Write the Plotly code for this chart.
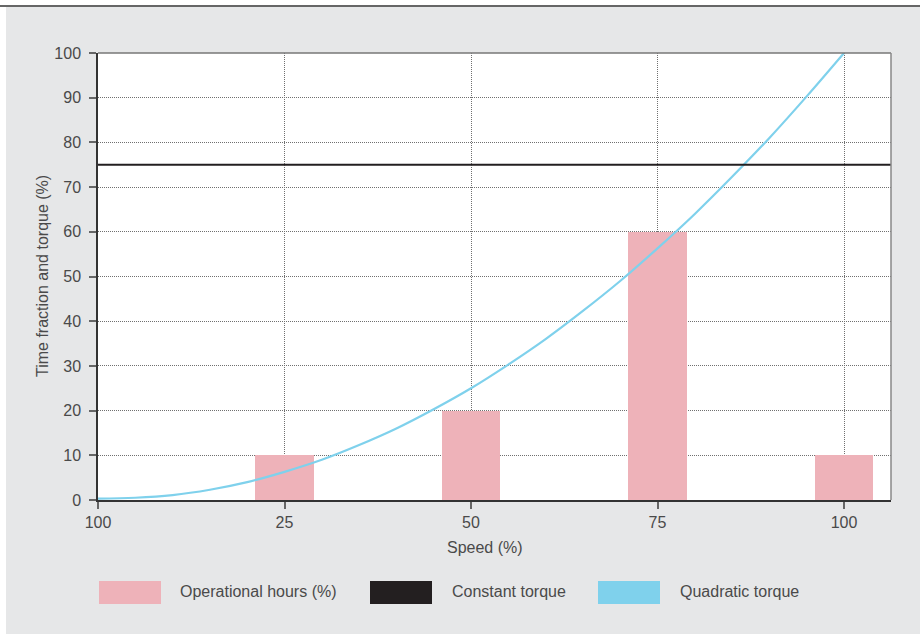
import plotly.graph_objects as go

# ---- data ----
speed_ticks = [0, 25, 50, 75, 100]
speed_tick_labels = ["100", "25", "50", "75", "100"]
bar_speed = [25, 50, 75, 100]
operational_hours = [10, 20, 60, 10]
constant_torque = 75
curve_speed = [0, 5, 10, 15, 20, 25, 30, 35, 40, 45, 50, 55, 60, 65, 70, 75, 80, 85, 90, 95, 100]
quadratic_torque = [0.3, 0.5, 1.1, 2.3, 4, 6.3, 9, 12.3, 16, 20.3, 25, 30.3, 36, 42.3, 49, 56.3, 64, 72.3, 81, 90.3, 100]
y_ticks = [0, 10, 20, 30, 40, 50, 60, 70, 80, 90, 100]
legend_names = ["Operational hours (%)", "Constant torque", "Quadratic torque"]

# ---- style ----
W, H = 920, 634
L, R, T, B = 98, 891, 53, 500
X_MAX = 106.3
PINK = "#eeb2b9"
BLACK = "#231f20"
BLUE = "#7fd1ec"
BG = "#e6e7e8"
TXT = "#4a4a4a"
FONT = "Liberation Sans, Arial, sans-serif"
FS = 16

def px(x):
    return (x - L) / (R - L)

def py(y):
    return (B - y) / (B - T)

fig = go.Figure()
fig.add_trace(go.Bar(x=bar_speed, y=operational_hours, width=7.8, marker=dict(color=PINK, line=dict(width=0)),
                     name=legend_names[0], showlegend=False))
fig.add_trace(go.Scatter(x=curve_speed, y=quadratic_torque, mode="lines", line=dict(color=BLUE, width=2.2, shape="spline"),
                         name=legend_names[2], showlegend=False))
fig.add_trace(go.Scatter(x=[0, X_MAX], y=[constant_torque, constant_torque], mode="lines",
                         line=dict(color=BLACK, width=2), name=legend_names[1], showlegend=False))

shapes = []
# grey background panel
shapes.append(dict(type="rect", xref="paper", yref="paper", x0=px(6), x1=px(W + 5), y0=py(7), y1=py(H + 5),
                   fillcolor=BG, line=dict(width=0), layer="below"))
# white plotting area
shapes.append(dict(type="rect", xref="paper", yref="paper", x0=0, x1=1, y0=0, y1=1,
                   fillcolor="white", line=dict(width=0), layer="below"))
# top dark rule
shapes.append(dict(type="line", xref="paper", yref="paper", x0=px(0), x1=px(W), y0=py(6), y1=py(6),
                   line=dict(color="#333333", width=1.5)))
# top and right frame
shapes.append(dict(type="line", xref="paper", yref="paper", x0=0, x1=1, y0=1, y1=1, line=dict(color="#777777", width=1.5)))
shapes.append(dict(type="line", xref="paper", yref="paper", x0=1, x1=1, y0=0, y1=1, line=dict(color="#888888", width=1.5)))

# custom legend
legend_items = [(99, 161, PINK, 178), (370, 432, BLACK, 450), (598, 660, BLUE, 678)]
annotations = []
for (x0, x1, col, tx), name in zip(legend_items, legend_names):
    shapes.append(dict(type="rect", xref="paper", yref="paper", x0=px(x0), x1=px(x1), y0=py(604), y1=py(581),
                       fillcolor=col, line=dict(width=0)))
    annotations.append(dict(xref="paper", yref="paper", x=px(tx), y=py(591), text=name, showarrow=False,
                            xanchor="left", yanchor="middle", font=dict(size=FS, color=TXT, family=FONT)))

annotations.append(dict(xref="paper", yref="paper", x=px(485), y=py(547), text="Speed (%)", showarrow=False,
                        xanchor="center", yanchor="middle", font=dict(size=FS, color=TXT, family=FONT)))
annotations.append(dict(xref="paper", yref="paper", x=px(42), y=py(276), text="Time fraction and torque (%)",
                        showarrow=False, textangle=-90, xanchor="center", yanchor="middle",
                        font=dict(size=FS, color=TXT, family=FONT)))

fig.update_layout(
    width=W, height=H,
    margin=dict(l=L, r=W - R, t=T, b=H - B, pad=0),
    paper_bgcolor="white", plot_bgcolor="white",
    showlegend=False, bargap=0,
    font=dict(family=FONT, size=FS, color=TXT),
    shapes=shapes, annotations=annotations,
    xaxis=dict(range=[0, X_MAX], tickvals=speed_ticks, ticktext=speed_tick_labels,
               showgrid=True, gridcolor="#707070", griddash="1px,1px", gridwidth=1,
               showline=True, linecolor="#333333", linewidth=1.5, mirror=False,
               ticks="outside", ticklen=7, tickcolor="#666666", tickwidth=1.5,
               zeroline=False, tickfont=dict(size=FS, color=TXT)),
    yaxis=dict(range=[0, 100], tickvals=y_ticks,
               showgrid=True, gridcolor="#707070", griddash="1px,1px", gridwidth=1,
               showline=True, linecolor="#333333", linewidth=1.5, mirror=False,
               ticks="outside", ticklen=7, tickcolor="#666666", tickwidth=1.5,
               ticklabelstandoff=5,
               zeroline=False, tickfont=dict(size=FS, color=TXT)),
)

fig.write_html("out.html", config={"displayModeBar": False},
               post_script="document.body.style.margin='0';document.body.style.padding='0';")
